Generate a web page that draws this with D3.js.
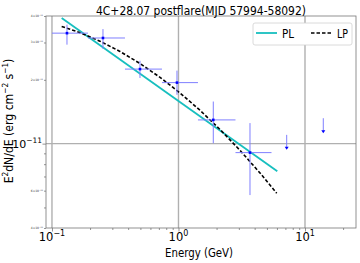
<!DOCTYPE html>
<html>
<head>
<meta charset="utf-8">
<script src="https://cdn.jsdelivr.net/npm/d3@7"></script>
<style>
body { margin: 0; background: white; }
</style>
</head>
<body>
<div id="container"></div>
<script>
let w = 360;
let h = 263;

// binned SED points (GeV, erg cm-2 s-1)
let energy = [0.1314, 0.2530, 0.4962, 0.973, 1.884, 3.675];
let eLow = [0.1, 0.1926, 0.3776, 0.7405, 1.426, 2.822];
let eHigh = [0.1926, 0.3776, 0.7405, 1.426, 2.822, 5.436];
let flux = [3.32e-11, 3.15e-11, 2.247e-11, 1.94e-11, 1.294e-11, 9.07e-12];
let fluxLow = [2.93e-11, 2.80e-11, 2.04e-11, 1.70e-11, 1.004e-11, 5.72e-12];
let fluxHigh = [3.64e-11, 3.47e-11, 2.46e-11, 2.21e-11, 1.58e-11, 1.25e-11];

// upper limits
let ulEnergy = [7.166, 13.95];
let ulFlux = [1.10e-11, 1.318e-11];

// model curves
let plEnergy = [0.1193, 6.04];
let plFlux = [3.913e-11, 7.41e-12];
let lpEnergy = [0.1193, 0.1665, 0.2394, 0.3447, 0.4962, 0.7143, 1.028, 1.479, 2.128, 3.063, 4.410, 5.974];
let lpFlux = [3.572e-11, 3.339e-11, 3.044e-11, 2.722e-11, 2.388e-11, 2.055e-11, 1.734e-11, 1.437e-11, 1.167e-11, 9.30e-12, 7.27e-12, 5.83e-12];

// ticks
let xMajor = [0.1, 1, 10];
let xMajorExp = ["\u22121", "0", "1"];
let xMinor = [0.2, 0.3, 0.4, 0.5, 0.6, 0.7, 0.8, 0.9, 2, 3, 4, 5, 6, 7, 8, 9, 20];
let yMajor = [1e-11];
let yMajorExp = ["\u221211"];
let yMinor = [4e-12, 5e-12, 6e-12, 7e-12, 8e-12, 9e-12, 2e-11, 3e-11, 4e-11];
let yMinorLabeled = [4e-12, 6e-12, 2e-11, 3e-11, 4e-11];
let yMinorText = ["4\u00d710\u207b\u00b9\u00b2", "6\u00d710\u207b\u00b9\u00b2", "2\u00d710\u207b\u00b9\u00b9", "3\u00d710\u207b\u00b9\u00b9", "4\u00d710\u207b\u00b9\u00b9"];

let pLeft = 46, pRight = 356, pTop = 16, pBottom = 228;

let font = "DejaVu Sans";
let cyan = "#17bfbf";
let barColor = "#7f7fff";

let viz = d3.select("#container")
  .append("svg")
    .attr("width", w)
    .attr("height", h)
    .style("background-color", "white")
;

let x = d3.scaleLog().domain([0.0897, 25.3]).range([pLeft, pRight]);
let y = d3.scaleLog().domain([4e-12, 4e-11]).range([pBottom, pTop]);

// grid
viz.selectAll(".vgrid")
  .data(xMajor)
  .enter()
  .append("line")
    .attr("x1", d => x(d))
    .attr("x2", d => x(d))
    .attr("y1", pTop)
    .attr("y2", pBottom)
    .style("stroke", "#b0b0b0")
    .style("stroke-width", 1.4)
;
viz.selectAll(".hgrid")
  .data(yMajor)
  .enter()
  .append("line")
    .attr("x1", pLeft)
    .attr("x2", pRight)
    .attr("y1", d => y(d))
    .attr("y2", d => y(d))
    .style("stroke", "#b0b0b0")
    .style("stroke-width", 1.4)
;

// axes
let xAxisMajor = d3.axisBottom(x).tickValues(xMajor).tickSize(3.5).tickFormat("");
let xAxisMinor = d3.axisBottom(x).tickValues(xMinor).tickSize(2).tickFormat("");
let yAxisMajor = d3.axisLeft(y).tickValues(yMajor).tickSize(3.5).tickFormat("");
let yAxisMinor = d3.axisLeft(y).tickValues(yMinor).tickSize(2).tickFormat("");

viz.append("g").attr("transform", "translate(0," + pBottom + ")").call(xAxisMajor);
viz.append("g").attr("transform", "translate(0," + pBottom + ")").call(xAxisMinor);
viz.append("g").attr("transform", "translate(" + pLeft + ",0)").call(yAxisMajor);
viz.append("g").attr("transform", "translate(" + pLeft + ",0)").call(yAxisMinor);
viz.selectAll(".domain").remove();
viz.selectAll(".tick line").style("stroke", "#666").style("stroke-width", 0.7);

viz.append("rect")
    .attr("x", pLeft)
    .attr("y", pTop)
    .attr("width", pRight - pLeft)
    .attr("height", pBottom - pTop)
    .attr("fill", "none")
    .style("stroke", "#777")
    .style("stroke-width", 0.8)
;

// x tick labels 10^n
let xLabels = viz.selectAll(".xlab")
  .data(xMajor)
  .enter()
  .append("text")
    .attr("x", d => x(d))
    .attr("y", pBottom + 12.5)
    .attr("text-anchor", "middle")
    .attr("fill", "black")
    .style("font-size", "11.5px")
    .style("font-family", font)
;
xLabels.append("tspan").text("10");
xLabels.append("tspan")
    .text((d, i) => xMajorExp[i])
    .attr("dy", -4.5)
    .style("font-size", "8px")
;

let yLabels = viz.selectAll(".ylab")
  .data(yMajor)
  .enter()
  .append("text")
    .attr("x", pLeft - 4)
    .attr("y", d => y(d) + 4)
    .attr("text-anchor", "end")
    .attr("fill", "black")
    .style("font-size", "11px")
    .style("font-family", font)
;
yLabels.append("tspan").text("10");
yLabels.append("tspan")
    .text((d, i) => yMajorExp[i])
    .attr("dy", -4.5)
    .style("font-size", "7.5px")
;

viz.selectAll(".yminlab")
  .data(yMinorLabeled)
  .enter()
  .append("text")
    .text((d, i) => yMinorText[i])
    .attr("x", pLeft - 3)
    .attr("y", d => y(d) + 1)
    .attr("text-anchor", "end")
    .attr("fill", "#333")
    .style("font-size", "3px")
    .style("font-family", font)
;

// model lines
let line = d3.line().x(d => x(d[0])).y(d => y(d[1]));

viz.append("path")
    .attr("d", line(d3.zip(plEnergy, plFlux)))
    .attr("fill", "none")
    .style("stroke", cyan)
    .style("stroke-width", 1.8)
;

viz.append("path")
    .attr("d", line(d3.zip(lpEnergy, lpFlux)))
    .attr("fill", "none")
    .style("stroke", "black")
    .style("stroke-width", 1.6)
    .style("stroke-dasharray", "3.5,2")
;

// error bars
let pts = d3.range(energy.length);

viz.selectAll(".xerr")
  .data(pts)
  .enter()
  .append("line")
    .attr("x1", i => x(eLow[i]))
    .attr("x2", i => x(eHigh[i]))
    .attr("y1", i => y(flux[i]))
    .attr("y2", i => y(flux[i]))
    .style("stroke", barColor)
    .style("stroke-width", 1)
;
viz.selectAll(".yerr")
  .data(pts)
  .enter()
  .append("line")
    .attr("x1", i => x(energy[i]))
    .attr("x2", i => x(energy[i]))
    .attr("y1", i => y(fluxLow[i]))
    .attr("y2", i => y(fluxHigh[i]))
    .style("stroke", barColor)
    .style("stroke-width", 1)
;
viz.selectAll(".pt")
  .data(pts)
  .enter()
  .append("rect")
    .attr("x", i => x(energy[i]) - 1.3)
    .attr("y", i => y(flux[i]) - 1.3)
    .attr("width", 2.6)
    .attr("height", 2.6)
    .attr("fill", "blue")
;

// upper limits
let uls = d3.range(ulEnergy.length);
viz.selectAll(".ul")
  .data(uls)
  .enter()
  .append("line")
    .attr("x1", i => x(ulEnergy[i]))
    .attr("x2", i => x(ulEnergy[i]))
    .attr("y1", i => y(ulFlux[i]))
    .attr("y2", i => y(ulFlux[i]) + 13)
    .style("stroke", barColor)
    .style("stroke-width", 1)
;
viz.selectAll(".ulhead")
  .data(uls)
  .enter()
  .append("path")
    .attr("d", i => {
      let cx = x(ulEnergy[i]);
      let cy = y(ulFlux[i]) + 15;
      return "M " + (cx - 2) + " " + (cy - 3) + " L " + (cx + 2) + " " + (cy - 3) + " L " + cx + " " + cy + " Z";
    })
    .attr("fill", "blue")
;

// title and axis labels
viz.append("text")
    .text("4C+28.07 postflare(MJD 57994-58092)")
    .attr("x", 201)
    .attr("y", 14.5)
    .attr("text-anchor", "middle")
    .attr("fill", "black")
    .attr("textLength", 210)
    .attr("lengthAdjust", "spacingAndGlyphs")
    .style("font-size", "12.5px")
    .style("font-family", font)
;

viz.append("text")
    .text("Energy (GeV)")
    .attr("x", 199)
    .attr("y", 256.5)
    .attr("text-anchor", "middle")
    .attr("fill", "black")
    .attr("textLength", 68)
    .attr("lengthAdjust", "spacingAndGlyphs")
    .style("font-size", "12.5px")
    .style("font-family", font)
;

let yTitle = viz.append("text")
    .attr("transform", "translate(13,121) rotate(-90) scale(0.87,1)")
    .attr("text-anchor", "middle")
    .attr("fill", "black")
    .style("font-size", "12.5px")
    .style("font-family", font)
;
yTitle.append("tspan").text("E");
yTitle.append("tspan").text("2").attr("dy", -5).style("font-size", "8.5px");
yTitle.append("tspan").text("dN/dE (erg cm").attr("dy", 5);
yTitle.append("tspan").text("\u22122").attr("dy", -5).style("font-size", "8.5px");
yTitle.append("tspan").text(" s").attr("dy", 5);
yTitle.append("tspan").text("\u22121").attr("dy", -5).style("font-size", "8.5px");
yTitle.append("tspan").text(")").attr("dy", 5);

// legend
let legend = viz.append("g").attr("transform", "translate(253,23)");
legend.append("rect")
    .attr("width", 99)
    .attr("height", 22)
    .attr("rx", 2)
    .attr("fill", "white")
    .style("stroke", "#d0d0d0")
    .style("stroke-width", 0.8)
;
legend.append("line")
    .attr("x1", 3).attr("x2", 24).attr("y1", 10).attr("y2", 10)
    .style("stroke", cyan)
    .style("stroke-width", 1.8)
;
legend.append("text")
    .text("PL")
    .attr("x", 29).attr("y", 14.5)
    .attr("fill", "black")
    .attr("textLength", 12)
    .attr("lengthAdjust", "spacingAndGlyphs")
    .style("font-size", "12px")
    .style("font-family", font)
;
legend.append("line")
    .attr("x1", 58).attr("x2", 78).attr("y1", 10).attr("y2", 10)
    .style("stroke", "black")
    .style("stroke-width", 1.6)
    .style("stroke-dasharray", "3.5,2")
;
legend.append("text")
    .text("LP")
    .attr("x", 84).attr("y", 14.5)
    .attr("fill", "black")
    .attr("textLength", 11)
    .attr("lengthAdjust", "spacingAndGlyphs")
    .style("font-size", "12px")
    .style("font-family", font)
;
</script>
</body>
</html>
